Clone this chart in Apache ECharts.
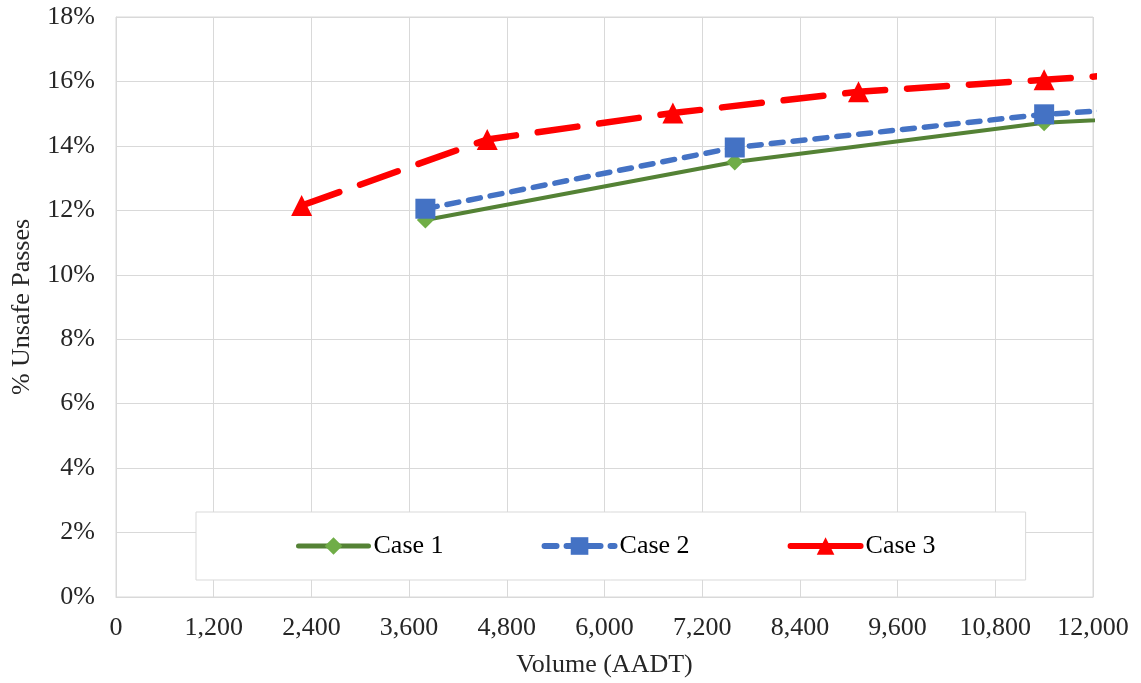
<!DOCTYPE html>
<html>
<head>
<meta charset="utf-8">
<script src="https://cdn.jsdelivr.net/npm/echarts@6/dist/echarts.min.js"></script>
<style>html,body{margin:0;padding:0;background:#fff}#c{width:1141px;height:683px}</style>
</head>
<body>
<div id="c"></div>
<script>
// Data (x = AADT volume, y = % unsafe passes)
const case1X = [3800, 7600, 11400, 15200];
const case1Y = [11.7, 13.5, 14.72, 15.2];
const case2X = [3800, 7600, 11400, 15200];
const case2Y = [12.05, 13.95, 14.98, 15.55];
const case3X = [2280, 4560, 6840, 9120, 11400, 13680];
const case3Y = [12.15, 14.2, 15.02, 15.68, 16.05, 16.43];
const seriesNames = ['Case 1', 'Case 2', 'Case 3'];
const xTickMax = 12000, xTickStep = 1200;
const yTickMax = 18, yTickStep = 2;

const pair = (xs, ys) => xs.map((x, i) => [x, ys[i]]);
const font = '"Liberation Serif","Times New Roman",serif';
const FS = 26;

const chart = echarts.init(document.getElementById('c'), null, {renderer: 'canvas'});
chart.setOption({
  animation: false,
  backgroundColor: '#fff',
  grid: {left: 116, right: 48, top: 17, bottom: 85, show: true, borderColor: '#d9d9d9', borderWidth: 1},
  xAxis: {
    type: 'value', min: 0, max: xTickMax, interval: xTickStep,
    name: 'Volume (AADT)', nameLocation: 'middle', nameGap: 55,
    nameTextStyle: {fontFamily: font, fontSize: FS, color: '#262626'},
    axisLine: {show: true, lineStyle: {color: '#d9d9d9'}},
    axisTick: {show: false},
    axisLabel: {fontFamily: font, fontSize: FS, color: '#262626', margin: 18,
      formatter: v => v.toLocaleString('en-US')},
    splitLine: {show: true, lineStyle: {color: '#d9d9d9', width: 1}}
  },
  yAxis: {
    type: 'value', min: 0, max: yTickMax, interval: yTickStep,
    name: '% Unsafe Passes', nameLocation: 'middle', nameGap: 81,
    nameTextStyle: {fontFamily: font, fontSize: FS, color: '#262626'},
    axisLine: {show: true, lineStyle: {color: '#d9d9d9'}},
    axisTick: {show: false},
    axisLabel: {fontFamily: font, fontSize: FS, color: '#262626', margin: 21, formatter: '{value}%'},
    splitLine: {show: true, lineStyle: {color: '#d9d9d9', width: 1}}
  },
  legend: {
    left: 196, top: 512,
    padding: [20, 90, 20, 100],
    itemWidth: 70, itemHeight: 22, itemGap: 98,
    backgroundColor: '#fff', borderColor: '#d9d9d9', borderWidth: 1,
    textStyle: {fontFamily: font, fontSize: FS, color: '#000', lineHeight: 28},
    data: [
      {name: seriesNames[0], lineStyle: {width: 5, type: 'solid'}},
      {name: seriesNames[1], lineStyle: {width: 6, type: [12, 10]}},
      {name: seriesNames[2], lineStyle: {width: 6, type: 'solid'}}
    ]
  },
  series: [
    {
      name: seriesNames[0], type: 'line', data: pair(case1X, case1Y), clip: true,
      symbol: 'diamond', symbolSize: 17,
      itemStyle: {color: '#70AD47'},
      lineStyle: {color: '#548235', width: 4, cap: 'round'}
    },
    {
      name: seriesNames[1], type: 'line', data: pair(case2X, case2Y), clip: true,
      symbol: 'rect', symbolSize: 20,
      itemStyle: {color: '#4472C4'},
      lineStyle: {color: '#4472C4', width: 5.5, type: [12, 10], cap: 'round'}
    },
    {
      name: seriesNames[2], type: 'line', data: pair(case3X, case3Y), clip: true,
      symbol: 'triangle', symbolSize: 21,
      itemStyle: {color: '#FF0000'},
      lineStyle: {color: '#FF0000', width: 6.5, type: [40, 22], cap: 'round'}
    }
  ]
});
</script>
</body>
</html>
